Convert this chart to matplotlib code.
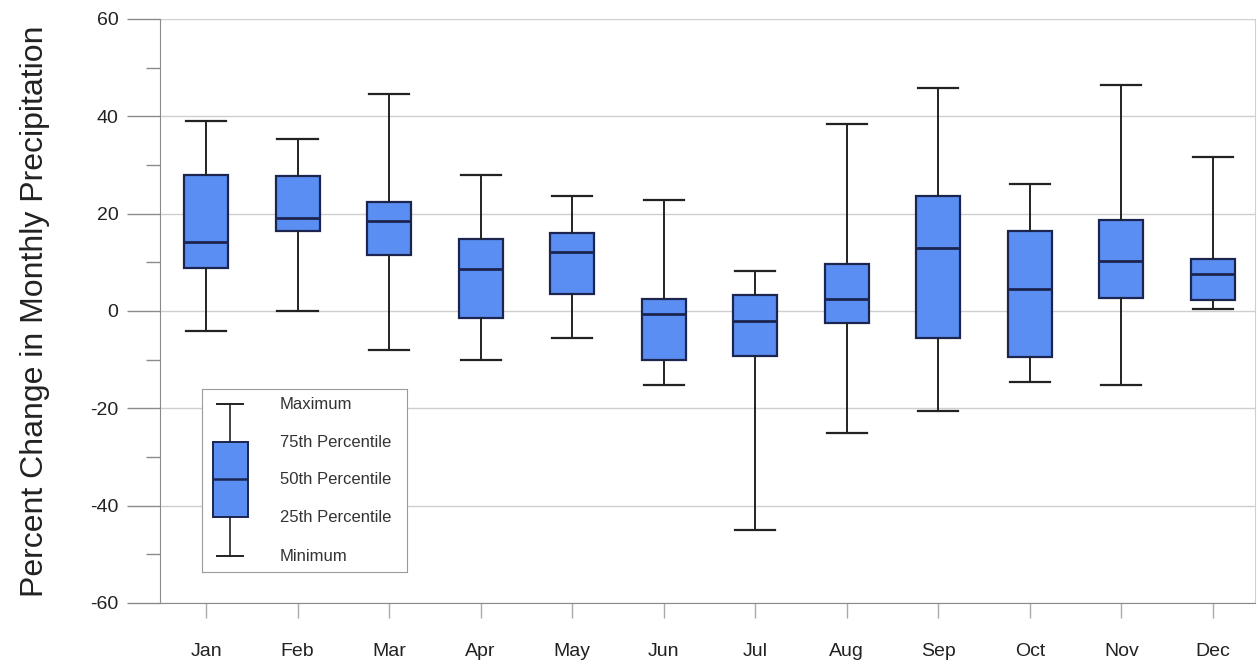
import matplotlib.pyplot as plt
import numpy as np

months = ['Jan', 'Feb', 'Mar', 'Apr', 'May', 'Jun', 'Jul', 'Aug', 'Sep', 'Oct', 'Nov', 'Dec']
p_max = [39.0, 35.3, 44.6, 28.0, 23.6, 22.9, 8.3, 38.5, 45.8, 26.1, 46.4, 31.6]
p_q3 = [27.9, 27.8, 22.4, 14.7, 16.0, 2.4, 3.2, 9.6, 23.7, 16.5, 18.6, 10.6]
p_med = [14.2, 19.1, 18.5, 8.6, 12.1, -0.6, -2.0, 2.4, 12.9, 4.5, 10.3, 7.6]
p_q1 = [8.8, 16.4, 11.5, -1.4, 3.5, -10.1, -9.2, -2.5, -5.5, -9.5, 2.6, 2.3]
p_min = [-4.1, 0.0, -8.0, -10.1, -5.5, -15.3, -45.0, -25.0, -20.5, -14.6, -15.2, 0.4]

key_labels = ['Maximum', '75th Percentile', '50th Percentile', '25th Percentile', 'Minimum']
key_levels = [0.918, 0.710, 0.508, 0.300, 0.087]

plt.rcParams['font.family'] = ['Liberation Sans', 'DejaVu Sans']
plt.rcParams['axes.unicode_minus'] = False

box_face = '#5b8ef2'
box_edge = '#1c2550'

fig = plt.figure(figsize=(12.57, 6.66), dpi=100)
ax = fig.add_axes([0.1273, 0.0946, 0.8711, 0.8769])

stats = []
for i in range(len(months)):
    stats.append(dict(whislo=p_min[i], q1=p_q1[i], med=p_med[i], q3=p_q3[i], whishi=p_max[i]))

x = np.arange(len(months))
ax.bxp(stats, positions=x, widths=0.48, capwidths=0.44, patch_artist=True, showfliers=False,
       boxprops=dict(facecolor=box_face, edgecolor=box_edge, linewidth=1.6),
       medianprops=dict(color=box_edge, linewidth=2),
       whiskerprops=dict(color='#222222', linewidth=1.4),
       capprops=dict(color='#222222', linewidth=1.6), zorder=3)

ax.set_xlim(-0.503, 11.46)
ax.set_ylim(-60, 60)
ax.set_yticks(np.arange(-60, 61, 20))
ax.set_yticks(np.arange(-50, 60, 20), minor=True)
ax.set_xticks(x)
ax.set_xticklabels(months)
ax.yaxis.grid(True, color='#cfcfcf', linewidth=1)
ax.set_axisbelow(True)

ax.spines['top'].set_visible(False)
for s in ['left', 'bottom']:
    ax.spines[s].set_color('#8a8a8a')
ax.spines['right'].set_color('#d0d0d0')

ax.tick_params(axis='y', which='major', length=24, width=1, color='#8a8a8a', labelsize=14, pad=6, labelcolor='#222222')
ax.tick_params(axis='y', which='minor', length=10, width=1, color='#8a8a8a')
ax.tick_params(axis='x', which='major', length=11, width=1, color='#aaaaaa', labelsize=14, pad=18, labelcolor='#222222')

ax.set_ylabel('Percent Change in Monthly Precipitation', fontsize=23, color='#222222', labelpad=29)

# key box drawn as a small inset
kx = fig.add_axes([0.1607, 0.1411, 0.1631, 0.2748])
kx.set_xlim(0, 1)
kx.set_ylim(0, 1)
for s in kx.spines.values():
    s.set_color('#9a9a9a')
key_stats = [dict(whishi=key_levels[0], q3=key_levels[1], med=key_levels[2], q1=key_levels[3], whislo=key_levels[4])]
kx.bxp(key_stats, positions=[0.137], widths=0.17, capwidths=0.13, patch_artist=True, showfliers=False,
       boxprops=dict(facecolor=box_face, edgecolor=box_edge, linewidth=1.4),
       medianprops=dict(color=box_edge, linewidth=1.8),
       whiskerprops=dict(color='#222222', linewidth=1.2),
       capprops=dict(color='#222222', linewidth=1.4), manage_ticks=False)
for lab, lev in zip(key_labels, key_levels):
    kx.text(0.38, lev, lab, fontsize=12, va='center', ha='left', color='#333333')
kx.set_xticks([])
kx.set_yticks([])

fig.savefig('out.png', dpi=100)
